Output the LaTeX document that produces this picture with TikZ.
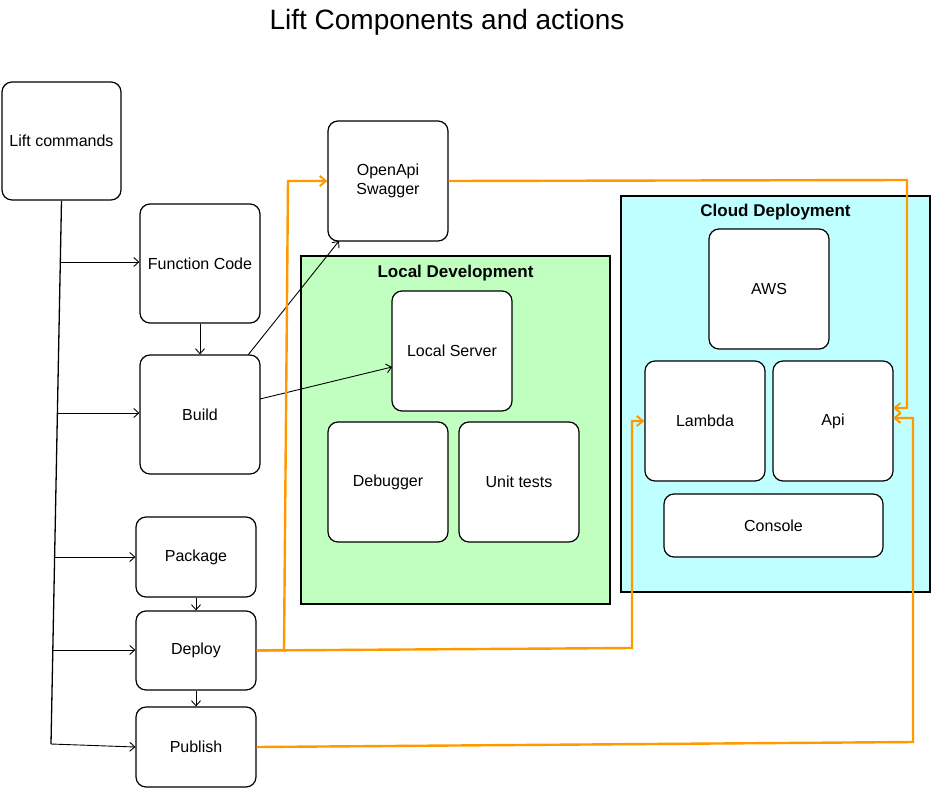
\documentclass[tikz,border=0pt]{standalone}
\usepackage{fontspec}
\setmainfont{Liberation Sans}
\usetikzlibrary{arrows.meta}
\definecolor{ldgreen}{HTML}{C0FFC0}
\definecolor{cdcyan}{HTML}{C0FFFF}
\definecolor{orangeline}{HTML}{FF9900}
\tikzset{
  box/.style={draw=black, line width=1.2pt, rounded corners=10pt, fill=white,
    minimum width=#1, inner sep=0pt, align=center, font=\fontsize{16}{19}\selectfont},
  container/.style={draw=black, line width=1.2pt},
  ctitle/.style={font=\bfseries\fontsize{17}{20}\selectfont},
  blk/.style={line width=0.9pt, -{Straight Barb[length=5pt,width=9pt,line width=0.9pt]}},
  org/.style={draw=orangeline, line width=2.4pt, -{Straight Barb[length=6pt,width=10pt,line width=2pt]}},
}
\begin{document}
\begin{tikzpicture}[x=1pt,y=-1pt]
\useasboundingbox (0,0) rectangle (931,789);
\node[font=\fontsize{28}{33}\selectfont] (title) at (447,22) {Lift Components and actions};

% containers
\coordinate (ldA) at (301,256);
\coordinate (ldB) at (610,604);
\draw[container, fill=ldgreen] (ldA) rectangle (ldB);
\node[ctitle] (ldtitle) at (455.5,273) {Local Development};
\coordinate (cdA) at (621,196);
\coordinate (cdB) at (930,592);
\draw[container, fill=cdcyan] (cdA) rectangle (cdB);
\node[ctitle] (cdtitle) at (775.5,212) {Cloud Deployment};

% left boxes
\node[box=119pt, minimum height=118pt] (lift) at (61.5,141) {Lift commands};
\node[box=120pt, minimum height=119pt] (fc) at (200,263.5) {Function Code};
\node[box=120pt, minimum height=119pt] (build) at (200,414.5) {Build};
\node[box=120pt, minimum height=80pt] (package) at (196,557) {Package};
\node[box=120pt, minimum height=79pt] (deploy) at (196,650.5) {Deploy};
\node[box=120pt, minimum height=80pt] (publish) at (196,747) {Publish};

\node[box=120pt, minimum height=120pt] (openapi) at (388,181) {OpenApi\\Swagger};

% local development
\node[box=120pt, minimum height=120pt] (localserver) at (452,351) {Local Server};
\node[box=120pt, minimum height=120pt] (debugger) at (388,482) {Debugger};
\node[box=120pt, minimum height=120pt] (unittests) at (519,482) {Unit tests};

% cloud deployment
\node[box=120pt, minimum height=120pt] (aws) at (769,289) {AWS};
\node[box=120pt, minimum height=120pt] (lambda) at (705,421) {Lambda};
\node[box=120pt, minimum height=120pt] (api) at (833,421) {Api};
\node[box=219pt, minimum height=63pt] (console) at (773.5,525.5) {Console};

% trunk
\coordinate (tend) at (51,744);
\draw[line width=1.3pt] (lift.south) -- (tend);
\coordinate (b1) at (59.9,262);
\coordinate (b2) at (57.1,413);
\coordinate (b3) at (54.4,557);
\coordinate (b4) at (52.7,650);
\draw[blk] (b1) -- (fc.west |- b1);
\draw[blk] (b2) -- (build.west |- b2);
\draw[blk] (b3) -- (package.west |- b3);
\draw[blk] (b4) -- (deploy.west |- b4);
\draw[blk] (tend) -- (publish.west);

% vertical flow
\draw[blk] (fc.south) -- (build.north);
\draw[blk] (package.south) -- (deploy.north);
\draw[blk] (deploy.south) -- (publish.north);

% build outputs
\coordinate (bA) at (248,355);
\coordinate (oA) at (339,241);
\draw[blk] (bA) -- (oA);
\coordinate (bB) at (260,399);
\coordinate (lA) at (392,367);
\draw[blk] (bB) -- (lA);

% orange connectors
\coordinate (o1a) at (284,650);
\coordinate (o1b) at (288,181);
\draw[org] (deploy.east) -- (o1a) -- (o1b) -- (openapi.west);

\coordinate (o2a) at (907,180);
\coordinate (o2b) at (907,408);
\coordinate (o2c) at (893,408);
\draw[org] (openapi.east) -- (o2a) -- (o2b) -- (o2c);

\coordinate (o3a) at (632,648);
\coordinate (o3b) at (632,421);
\draw[org] (deploy.east) -- (o3a) -- (o3b) -- (lambda.west);

\coordinate (o4a) at (913,742);
\coordinate (o4b) at (913,418);
\coordinate (o4c) at (893,418);
\draw[org] (publish.east) -- (o4a) -- (o4b) -- (o4c);
\end{tikzpicture}
\end{document}
